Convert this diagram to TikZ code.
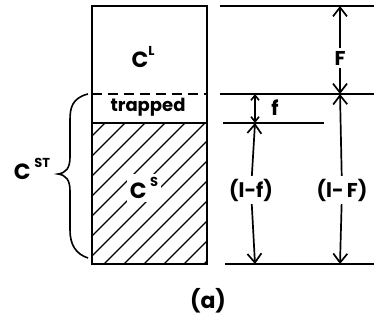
\documentclass[tikz,border=0pt]{standalone}
\usepackage{fontspec}
\setmainfont{Poppins}
\usetikzlibrary{arrows.meta}
\begin{document}
\begin{tikzpicture}[x=1pt,y=-1pt,line width=1.8pt,
  lbl/.style={font=\fontsize{20}{21}\selectfont\bfseries, inner sep=1pt},
  clbl/.style={font=\fontsize{22}{22}\selectfont\bfseries, inner sep=1pt},
  dimlbl/.style={lbl, fill=white, inner sep=2pt},
  bar/.style={-{Straight Barb[length=9pt,width=14pt,line width=1.7pt]}, line width=1.7pt},
  smallbar/.style={{Straight Barb[length=5pt,width=8pt,line width=1.6pt]}-{Straight Barb[length=5pt,width=8pt,line width=1.6pt]}, line width=1.6pt}]
\useasboundingbox (0,0) rectangle (374,323);
% hatching
\begin{scope}
  \clip (92,123) rectangle (207,264);
  \foreach \c in {228,248,...,468}
    \draw[line width=1.4pt] (\c-280,280) -- (\c-100,100);
\end{scope}
\node[clbl, fill=white, inner sep=3pt] (cs) at (144,188) {C\,\raisebox{0.55em}{\fontsize{13}{13}\selectfont\bfseries S}};
% box
\draw (92,6) rectangle (207,264);
\draw (92,123) -- (207,123);
\draw[dash pattern=on 10pt off 6pt] (92,94) -- (207,94);
\node[clbl] (cl) at (143,57) {C\raisebox{0.55em}{\fontsize{13}{13}\selectfont\bfseries L}};
\node[lbl, font=\fontsize{18}{18}\selectfont\bfseries] (tr) at (148,107) {trapped};
% brace
\draw[line width=1.6pt] (88,94) .. controls (72,98) and (70,108) .. (70,120)
  -- (70,157) .. controls (70,168) and (66,173) .. (58,174)
  .. controls (66,175) and (70,180) .. (70,191)
  -- (70,230) .. controls (70,245) and (76,254) .. (88,258);
\node[clbl] (cst) at (32,169) {C\,\raisebox{0.55em}{\fontsize{13}{13}\selectfont\bfseries ST}};
% reference lines
\coordinate (l1a) at (220,6);   \coordinate (l1b) at (374,6);
\coordinate (l2a) at (220,94);  \coordinate (l2b) at (374,94);
\coordinate (l3a) at (223,123); \coordinate (l3b) at (324,123);
\coordinate (l4a) at (225,264); \coordinate (l4b) at (374,264);
\draw (l1a) -- (l1b);
\draw (l2a) -- (l2b);
\draw (l3a) -- (l3b);
\draw (l4a) -- (l4b);
% F arrows
\node[dimlbl] (F) at (340,58) {F};
\draw[bar] (F) -- (340,6);
\draw[bar] (F) -- (340,94);
% (1-F)
\node[dimlbl] (oF) at (342,190) {(l-\,F)};
\draw[bar] (oF) -- (340,94);
\draw[bar] (oF) -- (340,264);
% f
\draw[smallbar] (255,94) -- (255,123);
\node[lbl] (f) at (275,108) {f};
% (1-f)
\node[dimlbl] (of) at (251,190) {(l-f)};
\draw[bar] (of) -- (255,123);
\draw[bar] (of) -- (255,264);
% caption
\node[lbl, font=\fontsize{22}{22}\selectfont\bfseries] (cap) at (208,301) {(a)};
\end{tikzpicture}
\end{document}
